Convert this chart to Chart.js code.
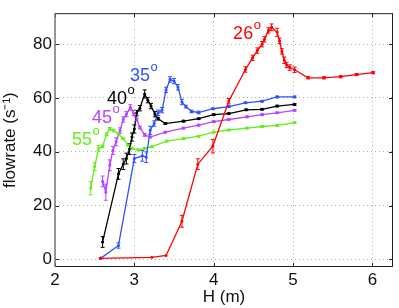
<!DOCTYPE html>
<html>
<head>
<meta charset="utf-8">
<script src="https://cdn.jsdelivr.net/npm/chart.js@4"></script>
<style>
  html, body { margin: 0; padding: 0; background: #fff; }
  #wrap { width: 399px; height: 308px; }
</style>
</head>
<body>
<div id="wrap"><canvas id="c" width="399" height="308"></canvas></div>
<script>
// 26 deg
const redH   = [2.57, 3.22, 3.40, 3.60, 3.80, 3.99, 4.19, 4.40, 4.49, 4.55, 4.61, 4.64, 4.69, 4.73, 4.80, 4.83, 4.86, 4.89, 4.92, 4.96, 5.02, 5.19, 5.39, 5.60, 5.80, 6.01];
const redQ   = [0.4, 0.8, 1.5, 14.2, 35.4, 42.1, 58.8, 70.6, 74.9, 77.6, 80.0, 81.8, 85.1, 86.3, 84.4, 81.2, 77.3, 74.0, 72.3, 71.3, 70.5, 67.5, 67.5, 67.9, 68.7, 69.4];
const redErr = [0, 0, 0, 2.2, 2.0, 2.5, 1.0, 1.0, 1.0, 1.0, 1.0, 1.0, 1.0, 1.2, 1.5, 1.0, 1.0, 1.2, 1.0, 1.0, 1.0, 0.4, 0.4, 0.4, 0.4, 0.4];
// 35 deg
const blueH   = [2.58, 2.80, 3.00, 3.10, 3.15, 3.20, 3.25, 3.30, 3.35, 3.40, 3.45, 3.50, 3.55, 3.60, 3.65, 3.72, 3.81, 3.99, 4.19, 4.40, 4.61, 4.80, 5.02];
const blueQ   = [0.5, 5.2, 37.5, 38.5, 38.0, 48.0, 50.5, 54.5, 55.5, 63.0, 66.9, 66.3, 64.0, 58.5, 56.8, 55.0, 54.6, 56.0, 56.8, 58.2, 58.8, 60.4, 60.4];
const blueErr = [0, 1.0, 1.5, 2.0, 2.0, 1.5, 1.0, 1.0, 1.0, 1.0, 1.0, 1.0, 1.0, 1.0, 0.5, 0.5, 0.5, 0.3, 0.3, 0.3, 0.3, 0.3, 0.3];
// 40 deg
const blackH   = [2.60, 2.80, 2.86, 2.90, 2.94, 2.97, 3.00, 3.03, 3.07, 3.13, 3.17, 3.21, 3.26, 3.30, 3.39, 3.62, 3.81, 4.00, 4.19, 4.41, 4.61, 4.80, 5.02];
const blackQ   = [6.5, 31.8, 35.4, 37.5, 41.0, 45.5, 48.5, 54.4, 56.2, 61.5, 59.2, 57.0, 54.0, 52.3, 50.5, 51.4, 52.3, 53.8, 54.2, 55.6, 55.8, 57.0, 57.6];
const blackErr = [2.0, 2.0, 2.0, 2.0, 2.0, 1.5, 1.5, 1.0, 1.0, 1.5, 1.0, 1.0, 1.0, 0.5, 0.3, 0.3, 0.3, 0.3, 0.3, 0.3, 0.3, 0.3, 0.3];
// 45 deg
const magH   = [2.60, 2.64, 2.69, 2.73, 2.77, 2.82, 2.86, 2.90, 2.95, 2.99, 3.03, 3.07, 3.13, 3.20, 3.39, 3.62, 3.81, 4.00, 4.19, 4.42, 4.61, 4.80, 5.02];
const magQ   = [29.0, 25.0, 35.0, 40.5, 43.7, 47.9, 52.0, 54.0, 56.5, 54.4, 52.0, 49.0, 46.3, 45.5, 47.3, 48.8, 49.9, 51.2, 52.0, 53.0, 53.8, 54.5, 55.4];
const magErr = [2.0, 3.0, 2.0, 1.5, 1.5, 1.0, 1.0, 1.0, 1.0, 1.0, 0.5, 0.5, 0.5, 0.3, 0.3, 0.3, 0.3, 0.3, 0.3, 0.3, 0.3, 0.3, 0.3];
// 55 deg
const greenH   = [2.45, 2.50, 2.55, 2.60, 2.65, 2.69, 2.74, 2.80, 2.86, 2.92, 2.97, 3.05, 3.13, 3.22, 3.41, 3.62, 3.81, 4.00, 4.19, 4.42, 4.61, 4.80, 5.02];
const greenQ   = [26.5, 34.5, 41.3, 42.0, 46.5, 48.5, 47.9, 46.7, 44.9, 42.5, 41.3, 40.7, 41.3, 41.9, 44.0, 44.9, 45.8, 47.3, 48.1, 48.8, 49.4, 49.8, 50.8];
const greenErr = [2.5, 1.5, 1.0, 0.5, 0.5, 0.5, 0.5, 0.3, 0.3, 0.3, 0.3, 0.3, 0.3, 0.3, 0.3, 0.3, 0.3, 0.3, 0.3, 0.3, 0.3, 0.3, 0.3];

const xTicks = [2, 3, 4, 5, 6];
const yTicks = [0, 20, 40, 60, 80];

const FONT = "'Liberation Sans', Arial, Helvetica, sans-serif";

function pts(xs, ys){ return xs.map((x,i)=>({x, y: ys[i]})); }

function ds(label, xs, ys, errs, color, tag){
  return {
    label, data: pts(xs, ys), errs, tag,
    borderColor: color, backgroundColor: color,
    borderWidth: 1.3, pointRadius: 0.9, pointHoverRadius: 0.9,
    showLine: true, tension: 0
  };
}

// tag = [text, x, y] in data units (left / baseline of the label)
const datasets = [
  ds('26', redH, redQ, redErr, '#ff0000', ['26', 4.245, 81.8]),
  ds('35', blueH, blueQ, blueErr, '#3050ff', ['35', 2.946, 66.4]),
  ds('40', blackH, blackQ, blackErr, '#000000', ['40', 2.656, 57.9]),
  ds('45', magH, magQ, magErr, '#bb44ff', ['45', 2.467, 50.7]),
  ds('55', greenH, greenQ, greenErr, '#66ee1a', ['55', 2.214, 42.5])
];

const extras = {
  id: 'extras',
  afterDatasetsDraw(chart){
    const {ctx, scales:{x, y}, chartArea:a} = chart;
    ctx.save();
    // error bars
    chart.data.datasets.forEach(d=>{
      ctx.strokeStyle = d.borderColor;
      ctx.lineWidth = 1;
      d.data.forEach((p,i)=>{
        const e = d.errs[i];
        if(!e) return;
        const px = x.getPixelForValue(p.x);
        const t = y.getPixelForValue(p.y + e), b = y.getPixelForValue(p.y - e);
        ctx.beginPath();
        ctx.moveTo(px, t); ctx.lineTo(px, b);
        ctx.moveTo(px-2, t); ctx.lineTo(px+2, t);
        ctx.moveTo(px-2, b); ctx.lineTo(px+2, b);
        ctx.stroke();
      });
    });
    // angle labels
    ctx.textBaseline = 'alphabetic';
    ctx.textAlign = 'left';
    chart.data.datasets.forEach(d=>{
      const [txt, tx, ty] = d.tag;
      const px = x.getPixelForValue(tx), py = y.getPixelForValue(ty);
      ctx.fillStyle = d.borderColor;
      ctx.font = '18px ' + FONT;
      ctx.fillText(txt, px, py);
      const w = ctx.measureText(txt).width;
      ctx.font = '13px ' + FONT;
      ctx.fillText('o', px + w + 0.5, py - 10);
    });
    // box and inner ticks
    ctx.strokeStyle = '#222';
    ctx.lineWidth = 1;
    ctx.beginPath();
    ctx.moveTo(a.left, a.top + 0.5); ctx.lineTo(a.right, a.top + 0.5);
    ctx.moveTo(a.right - 0.5, a.top); ctx.lineTo(a.right - 0.5, a.bottom);
    ctx.moveTo(a.left, a.bottom - 0.5); ctx.lineTo(a.right, a.bottom - 0.5);
    xTicks.forEach(v=>{
      const px = Math.round(x.getPixelForValue(v)) + 0.5;
      ctx.moveTo(px, a.bottom); ctx.lineTo(px, a.bottom - 4);
      ctx.moveTo(px, a.top); ctx.lineTo(px, a.top + 4);
    });
    yTicks.forEach(v=>{
      const py = Math.round(y.getPixelForValue(v)) + 0.5;
      ctx.moveTo(a.left, py); ctx.lineTo(a.left + 4, py);
      ctx.moveTo(a.right, py); ctx.lineTo(a.right - 4, py);
    });
    ctx.stroke();
    ctx.strokeStyle = '#777';
    ctx.lineWidth = 1.5;
    ctx.beginPath();
    ctx.moveTo(a.left, a.top); ctx.lineTo(a.left, a.bottom);
    ctx.stroke();
    ctx.restore();
  }
};

new Chart(document.getElementById('c'), {
  type: 'scatter',
  data: { datasets },
  options: {
    responsive: false,
    animation: false,
    layout: { padding: { top: 3, right: 6, left: 0, bottom: 0 } },
    plugins: { legend: { display: false }, tooltip: { enabled: false } },
    scales: {
      x: {
        type: 'linear', min: 2, max: 6.26,
        afterBuildTicks: s => { s.ticks = xTicks.map(v=>({value: v})); },
        afterFit: s => { s.height = 41; },
        grid: { color: '#b0b0b0', lineWidth: 1, drawTicks: false },
        border: { display: false, dash: [1, 3] },
        ticks: { color: '#111', padding: 3, font: { family: FONT, size: 17 } },
        title: { display: true, text: 'H (m)', color: '#111', padding: { top: 0, bottom: 0 }, font: { family: FONT, size: 17 } }
      },
      y: {
        type: 'linear', min: -2.8, max: 91.5,
        afterBuildTicks: s => { s.ticks = yTicks.map(v=>({value: v})); },
        afterFit: s => { s.width = 55; },
        grid: { color: '#b0b0b0', lineWidth: 1, drawTicks: false },
        border: { display: false, dash: [1, 3] },
        ticks: { color: '#111', padding: 3, font: { family: FONT, size: 17 } },
        title: { display: true, text: 'flowrate (s\u207B\u00B9)', color: '#111', padding: { top: 0, bottom: 2 }, font: { family: FONT, size: 17 } }
      }
    }
  },
  plugins: [extras]
});
</script>
</body>
</html>
